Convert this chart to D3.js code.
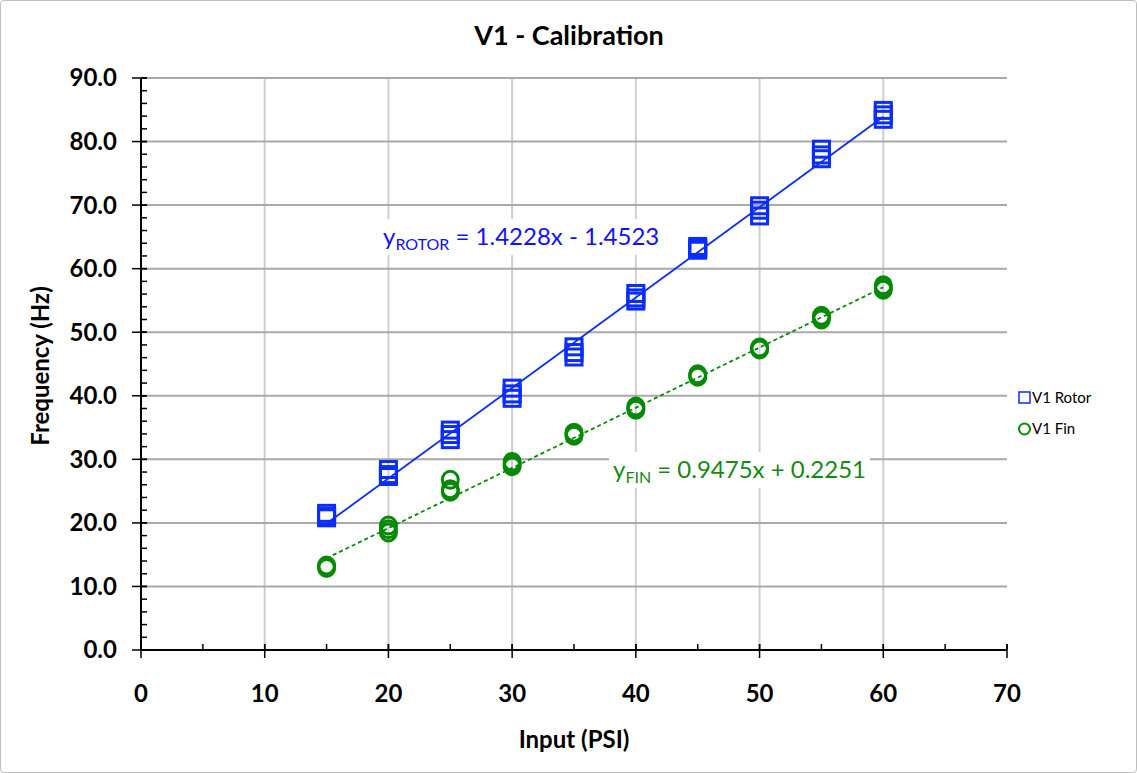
<!DOCTYPE html>
<html>
<head>
<meta charset="utf-8">
<script src="https://cdn.jsdelivr.net/npm/d3@7"></script>
<style>
  html, body { margin: 0; padding: 0; background: #fff; }
  svg { display: block; }
</style>
</head>
<body>
<svg id="chart" width="1137" height="773"></svg>
<script>
// ---------- data ----------
const inputPsi = [15, 20, 25, 30, 35, 40, 45, 50, 55, 60];
const rotorRun1 = [21.5, 28.4, 34.6, 41.2, 47.7, 56.1, 63.5, 69.9, 78.8, 84.9];
const rotorRun2 = [21.0, 27.6, 33.9, 40.3, 46.8, 55.4, 63.2, 69.2, 77.9, 84.2];
const rotorRun3 = [20.8, 27.3, 33.1, 39.6, 46.1, 54.9, 62.9, 68.3, 77.3, 83.5];
const finRun1 = [13.3, 19.6, 26.8, 29.6, 34.2, 38.3, 43.4, 47.6, 52.6, 57.4];
const finRun2 = [13.1, 19.0, 25.3, 29.2, 33.9, 38.0, 43.2, 47.4, 52.3, 57.0];
const finRun3 = [12.9, 18.5, 24.9, 28.9, 33.7, 37.8, 43.0, 47.3, 52.0, 56.7];
const rotorFit = [1.4228, -1.4523]; // slope, intercept
const finFit = [0.9475, 0.2251];
const fitRange = [15, 60];
const xTicks = [0, 10, 20, 30, 40, 50, 60, 70];
const yTicks = [0, 10, 20, 30, 40, 50, 60, 70, 80, 90];
const seriesNames = ["V1 Rotor", "V1 Fin"];

// ---------- style ----------
const BLUE = "#0a2cff";
const GREEN = "#078a07";
const FONT = "Lato, 'Open Sans', sans-serif";

const svg = d3.select("#chart");
svg.append("rect").attr("x", 0.5).attr("y", 0.5).attr("width", 1136).attr("height", 772)
  .attr("rx", 3).attr("fill", "#fff").attr("stroke", "#bdbdbd").attr("stroke-width", 1);

const x = d3.scaleLinear().domain([0, 70]).range([141, 1007]);
const y = d3.scaleLinear().domain([0, 90]).range([650, 78]);

// gridlines
const grid = svg.append("g");
grid.selectAll("line.v").data(xTicks.filter(d => d > 0 && d < 70)).join("line")
  .attr("x1", d => x(d)).attr("x2", d => x(d)).attr("y1", y(90)).attr("y2", y(0))
  .attr("stroke", "#cfcfcf").attr("stroke-width", 2);
grid.selectAll("line.h").data(yTicks.filter(d => d > 0)).join("line")
  .attr("x1", x(0)).attr("x2", x(70)).attr("y1", d => y(d)).attr("y2", d => y(d))
  .attr("stroke", "#a9a9a9").attr("stroke-width", 2);

// axes
const axisG = svg.append("g");
axisG.selectAll("line.ym").data(d3.range(0, 90.01, 2)).join("line")
  .attr("x1", x(0)).attr("x2", x(0) + 6).attr("y1", d => y(d)).attr("y2", d => y(d))
  .attr("stroke", "#000").attr("stroke-width", 1.5);
axisG.selectAll("line.yM").data(yTicks).join("line")
  .attr("x1", x(0) - 9).attr("x2", x(0) + 6).attr("y1", d => y(d)).attr("y2", d => y(d))
  .attr("stroke", "#000").attr("stroke-width", 1.5);
axisG.selectAll("line.xm").data(d3.range(0, 70.01, 5)).join("line")
  .attr("x1", d => x(d)).attr("x2", d => x(d)).attr("y1", y(0) - 6).attr("y2", y(0))
  .attr("stroke", "#000").attr("stroke-width", 1.5);
axisG.selectAll("line.xM").data(xTicks).join("line")
  .attr("x1", d => x(d)).attr("x2", d => x(d)).attr("y1", y(0) - 6).attr("y2", y(0) + 8)
  .attr("stroke", "#000").attr("stroke-width", 1.5);
axisG.append("line").attr("x1", x(0)).attr("x2", x(0)).attr("y1", y(90)).attr("y2", y(0))
  .attr("stroke", "#000").attr("stroke-width", 2);
axisG.append("line").attr("x1", x(0)).attr("x2", x(70)).attr("y1", y(0)).attr("y2", y(0))
  .attr("stroke", "#000").attr("stroke-width", 2);

// tick labels
svg.append("g").selectAll("text").data(yTicks).join("text")
  .attr("x", 117).attr("y", d => y(d)).attr("dy", "0.35em")
  .attr("text-anchor", "end").attr("font-family", FONT).attr("font-weight", "bold")
  .attr("font-size", 24).text(d => d3.format(".1f")(d));
svg.append("g").selectAll("text").data(xTicks).join("text")
  .attr("x", d => x(d)).attr("y", 702)
  .attr("text-anchor", "middle").attr("font-family", FONT).attr("font-weight", "bold")
  .attr("font-size", 24).text(d => d);

// titles
svg.append("text").attr("x", 569).attr("y", 45).attr("text-anchor", "middle")
  .attr("font-family", FONT).attr("font-weight", "bold").attr("font-size", 27)
  .text("V1 - Calibration");
svg.append("text").attr("x", 574).attr("y", 748).attr("text-anchor", "middle")
  .attr("font-family", FONT).attr("font-weight", "bold").attr("font-size", 24)
  .text("Input (PSI)");
svg.append("text").attr("transform", "translate(49,366) rotate(-90)").attr("text-anchor", "middle")
  .attr("font-family", FONT).attr("font-weight", "bold").attr("font-size", 24)
  .text("Frequency (Hz)");

// trendlines
const line = d3.line().x(d => x(d[0])).y(d => y(d[1]));
function fitPts(fit) { return fitRange.map(v => [v, fit[0] * v + fit[1]]); }
svg.append("path").attr("d", line(fitPts(rotorFit))).attr("stroke", BLUE)
  .attr("stroke-width", 1.8).attr("fill", "none");
svg.append("path").attr("d", line(fitPts(finFit))).attr("stroke", GREEN)
  .attr("stroke-width", 1.8).attr("stroke-dasharray", "4,3").attr("fill", "none");

// markers
const sq = 16;
const rotorPts = [rotorRun1, rotorRun2, rotorRun3].flatMap(run => run.map((v, i) => [inputPsi[i], v]));
const finPts = [finRun1, finRun2, finRun3].flatMap(run => run.map((v, i) => [inputPsi[i], v]));
svg.append("g").selectAll("rect").data(rotorPts).join("rect")
  .attr("x", d => x(d[0]) - sq / 2).attr("y", d => y(d[1]) - sq / 2)
  .attr("width", sq).attr("height", sq).attr("fill", "none")
  .attr("stroke", BLUE).attr("stroke-width", 3);
svg.append("g").selectAll("ellipse").data(finPts).join("ellipse")
  .attr("cx", d => x(d[0])).attr("cy", d => y(d[1]))
  .attr("rx", 8).attr("ry", 8.5).attr("fill", "none")
  .attr("stroke", GREEN).attr("stroke-width", 3);

// equation labels
function eqLabel(xp, yp, color, sub, rest) {
  const g = svg.append("g");
  const bg = g.append("rect").attr("fill", "#fff");
  const t = g.append("text").attr("x", xp).attr("y", yp).attr("fill", color)
    .attr("font-family", FONT).attr("font-size", 24);
  t.append("tspan").text("y");
  t.append("tspan").attr("font-size", 16).attr("dy", 5).text(sub);
  t.append("tspan").attr("dy", -5).text(" " + rest);
  const b = t.node().getBBox();
  bg.attr("x", b.x - 4).attr("y", b.y - 2).attr("width", b.width + 8).attr("height", b.height + 4);
}
eqLabel(383, 245, "#1010ff", "ROTOR", "= 1.4228x - 1.4523");
eqLabel(613, 478, "#138a13", "FIN", "= 0.9475x + 0.2251");

// legend
const leg = svg.append("g");
leg.append("rect").attr("x", 1019).attr("y", 392).attr("width", 11).attr("height", 11)
  .attr("fill", "none").attr("stroke", BLUE).attr("stroke-width", 1.5);
leg.append("circle").attr("cx", 1024.5).attr("cy", 429).attr("r", 5.5)
  .attr("fill", "none").attr("stroke", GREEN).attr("stroke-width", 2);
leg.selectAll("text").data(seriesNames).join("text")
  .attr("x", 1032).attr("y", (d, i) => 398 + i * 31).attr("dy", "0.35em")
  .attr("font-family", FONT).attr("font-size", 15).text(d => d);
</script>
</body>
</html>
